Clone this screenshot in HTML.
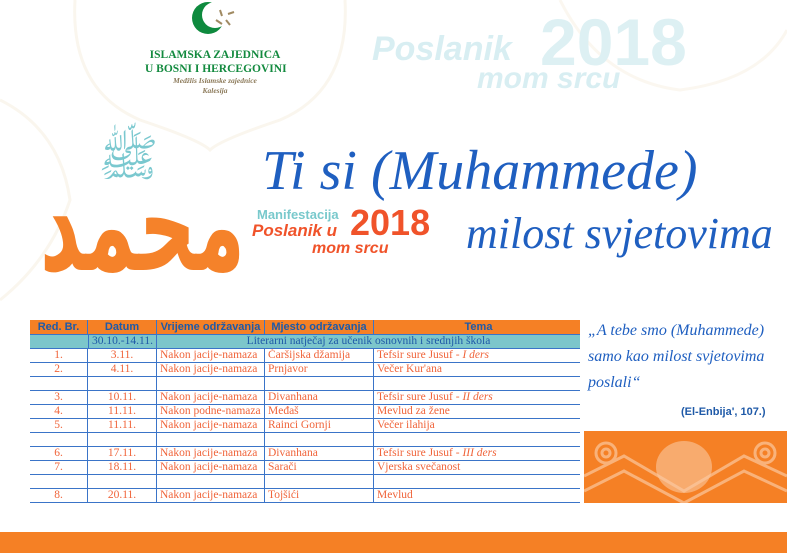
<!DOCTYPE html>
<html><head><meta charset="utf-8"><style>
*{margin:0;padding:0;box-sizing:border-box}
body{width:787px;height:553px;overflow:hidden;background:#fff;position:relative;font-family:"Liberation Serif",serif}
.a{position:absolute;white-space:nowrap}
.script{font-family:"Liberation Serif",serif;font-style:italic;color:#1f5fc0}
.row{position:absolute;left:30px;width:550px;height:14px;border-bottom:1.5px solid #3a74c8;font-size:11.5px;line-height:13px;color:#f0643a;white-space:nowrap}
.row div{position:absolute;top:0;height:100%;border-right:1.5px solid #3a74c8;overflow:hidden}
.c1{left:0;width:58px;text-align:center}
.c2{left:58px;width:69px;text-align:center}
.c3{left:127px;width:108px;padding-left:3px}
.c4{left:235px;width:109px;padding-left:3px}
.c5{left:344px;width:206px;padding-left:3px;border-right:none!important}
</style></head><body>
<svg class="a" style="left:0;top:0" width="787" height="553">
<path d="M75 0 Q70 90 140 120 Q200 140 210 150 Q220 140 280 120 Q350 90 345 0" fill="none" stroke="#faf6ee" stroke-width="3"/>
<path d="M0 100 Q60 130 70 200 Q50 260 0 300" fill="none" stroke="#faf6ee" stroke-width="3"/>
<path d="M560 0 Q600 80 680 90 Q760 80 787 30" fill="none" stroke="#fbf7f0" stroke-width="3"/>
</svg>
<svg class="a" style="left:188px;top:0" width="50" height="40"><circle cx="20" cy="18" r="16" fill="#0e8a3e"/><circle cx="27" cy="15" r="13" fill="#fff"/><g stroke="#a08a62" stroke-width="2"><line x1="32" y1="10" x2="34" y2="16"/><line x1="40" y1="14" x2="46" y2="12"/><line x1="38" y1="20" x2="42" y2="25"/><line x1="28" y1="20" x2="34" y2="24"/></g></svg>
<div class="a" style="left:145px;top:48px;width:140px;text-align:center;font:bold 11.5px 'Liberation Serif',serif;color:#138a3f;line-height:14px">ISLAMSKA ZAJEDNICA<br>U BOSNI I HERCEGOVINI</div>
<div class="a" style="left:145px;top:76px;width:140px;text-align:center;font:italic bold 7.5px 'Liberation Serif',serif;color:#8c7a5a;line-height:10px">Medžlis Islamske zajednice<br>Kalesija</div>
<div class="a" style="left:372px;top:30px;font:italic bold 34px 'Liberation Sans',sans-serif;color:#d8eef2">Poslanik</div>
<div class="a" style="left:540px;top:4px;font:bold 66px 'Liberation Sans',sans-serif;color:#ddf0f3">2018</div>
<div class="a" style="left:477px;top:62px;font:italic bold 30px 'Liberation Sans',sans-serif;color:#d8eef2">mom srcu</div>
<div class="a" style="left:98px;top:128px;font:50px 'DejaVu Sans',sans-serif;color:#7ac8cf">ﷺ</div>
<div class="a" style="left:40px;top:175px;font:bold 72px 'DejaVu Sans',sans-serif;color:#f5822a;line-height:100px;transform:scale(1.1,1.8);transform-origin:left center">محمد</div>
<div class="a script" style="left:262px;top:138px;font-size:56px;line-height:66px">Ti si (Muhammede)</div>
<div class="a script" style="left:466px;top:208px;font-size:44px;line-height:52px">milost svjetovima</div>
<div class="a" style="left:257px;top:207px;font:bold 13px 'Liberation Sans',sans-serif;color:#79c9cc">Manifestacija</div>
<div class="a" style="left:252px;top:221px;font:italic bold 17px 'Liberation Sans',sans-serif;color:#f0532a">Poslanik u</div>
<div class="a" style="left:350px;top:203px;font:bold 36px 'Liberation Sans',sans-serif;color:#f0532a;line-height:40px">2018</div>
<div class="a" style="left:312px;top:240px;font:italic bold 16px 'Liberation Sans',sans-serif;color:#f0532a">mom srcu</div>
<div class="row" style="top:320px;height:15px;background:#f58025;color:#1f5aa8;font:bold 11px 'Liberation Sans',sans-serif;line-height:14px">
<div class="c1">Red. Br.</div><div class="c2">Datum</div><div class="c3" style="padding:0;text-align:center">Vrijeme održavanja</div><div class="c4" style="padding:0;text-align:center">Mjesto održavanja</div><div class="c5" style="text-align:center">Tema</div></div>
<div class="row" style="top:335px;background:#7cc6cb;color:#1f5aa8"><div class="c1" style="border:none"></div><div class="c2" style="border-left:1.5px solid #3a74c8">30.10.-14.11.</div><div style="left:127px;width:423px;text-align:center;border:none">Literarni natječaj za učenik osnovnih i srednjih škola</div></div>
<div class="row" style="top:349px"><div class="c1">1.</div><div class="c2">3.11.</div><div class="c3">Nakon jacije-namaza</div><div class="c4">Čaršijska džamija</div><div class="c5">Tefsir sure Jusuf - <i>I ders</i></div></div>
<div class="row" style="top:363px"><div class="c1">2.</div><div class="c2">4.11.</div><div class="c3">Nakon jacije-namaza</div><div class="c4">Prnjavor</div><div class="c5">Večer Kur'ana</div></div>
<div class="row" style="top:377px"><div class="c1"></div><div class="c2"></div><div class="c3"></div><div class="c4"></div><div class="c5"></div></div>
<div class="row" style="top:391px"><div class="c1">3.</div><div class="c2">10.11.</div><div class="c3">Nakon jacije-namaza</div><div class="c4">Divanhana</div><div class="c5">Tefsir sure Jusuf - <i>II ders</i></div></div>
<div class="row" style="top:405px"><div class="c1">4.</div><div class="c2">11.11.</div><div class="c3">Nakon podne-namaza</div><div class="c4">Međaš</div><div class="c5">Mevlud za žene</div></div>
<div class="row" style="top:419px"><div class="c1">5.</div><div class="c2">11.11.</div><div class="c3">Nakon jacije-namaza</div><div class="c4">Rainci Gornji</div><div class="c5">Večer ilahija</div></div>
<div class="row" style="top:433px"><div class="c1"></div><div class="c2"></div><div class="c3"></div><div class="c4"></div><div class="c5"></div></div>
<div class="row" style="top:447px"><div class="c1">6.</div><div class="c2">17.11.</div><div class="c3">Nakon jacije-namaza</div><div class="c4">Divanhana</div><div class="c5">Tefsir sure Jusuf - <i>III ders</i></div></div>
<div class="row" style="top:461px"><div class="c1">7.</div><div class="c2">18.11.</div><div class="c3">Nakon jacije-namaza</div><div class="c4">Sarači</div><div class="c5">Vjerska svečanost</div></div>
<div class="row" style="top:475px"><div class="c1"></div><div class="c2"></div><div class="c3"></div><div class="c4"></div><div class="c5"></div></div>
<div class="row" style="top:489px"><div class="c1">8.</div><div class="c2">20.11.</div><div class="c3">Nakon jacije-namaza</div><div class="c4">Tojšići</div><div class="c5">Mevlud</div></div>
<div class="a script" style="left:588px;top:318px;font-size:16px;line-height:26px">„A tebe smo (Muhammede)<br>samo kao milost svjetovima<br>poslali“</div>
<div class="a" style="left:681px;top:406px;font:bold 11px 'Liberation Sans',sans-serif;color:#1f5aa8">(El-Enbija', 107.)</div>
<div class="a" style="left:584px;top:431px;width:203px;height:72px;background:#f58025;overflow:hidden">
<svg width="203" height="72"><g fill="none" stroke="#f9b27a" stroke-width="3"><circle cx="22" cy="22" r="10"/><circle cx="22" cy="22" r="4"/><circle cx="181" cy="22" r="10"/><circle cx="181" cy="22" r="4"/><path d="M0 45 L40 25 L100 60 L160 25 L203 45"/><path d="M0 60 L40 40 L100 72 L160 40 L203 60"/></g><ellipse cx="100" cy="36" rx="28" ry="26" fill="#fac8a0" opacity=".6"/></svg></div>
<div class="a" style="left:0;top:532px;width:787px;height:21px;background:#f58025"></div>
</body></html>
